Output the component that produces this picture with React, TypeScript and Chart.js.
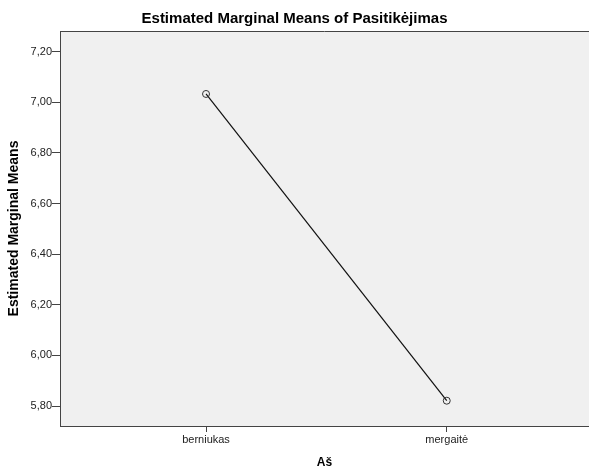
import React, { useEffect, useRef } from "react";
import { Chart, registerables } from "chart.js";

Chart.register(...registerables);

const categories: string[] = ["berniukas", "mergaitė"];
const means: number[] = [7.033, 5.821];
const yTickValues: number[] = [5.8, 6.0, 6.2, 6.4, 6.6, 6.8, 7.0, 7.2];
const chartTitle = "Estimated Marginal Means of Pasitikėjimas";
const yTitle = "Estimated Marginal Means";
const xTitle = "Aš";

const FONT = "'Liberation Sans', Arial, sans-serif";

const bgPlugin = {
  id: "spssBg",
  beforeDraw(chart: any) {
    const { ctx, chartArea } = chart;
    ctx.save();
    ctx.fillStyle = "#f0f0f0";
    ctx.fillRect(chartArea.left, chartArea.top, chartArea.right - chartArea.left, chartArea.bottom - chartArea.top);
    ctx.strokeStyle = "#444444";
    ctx.lineWidth = 1;
    ctx.beginPath();
    ctx.moveTo(chartArea.left, chartArea.top + 0.5);
    ctx.lineTo(chartArea.right, chartArea.top + 0.5);
    ctx.stroke();
    ctx.restore();
  },
  afterDraw(chart: any) {
    const { ctx } = chart;
    ctx.save();
    ctx.fillStyle = "#000000";
    ctx.font = `bold 15px ${FONT}`;
    ctx.textAlign = "center";
    ctx.textBaseline = "alphabetic";
    ctx.fillText(chartTitle, chart.width / 2, 23.3);
    ctx.restore();
  },
};

export default function App() {
  const ref = useRef<HTMLCanvasElement | null>(null);

  useEffect(() => {
    document.body.style.margin = "0";
    const canvas = ref.current;
    if (!canvas) return;
    const chart = new Chart(canvas, {
      type: "line",
      data: {
        datasets: [
          {
            data: means.map((m, i) => ({ x: i, y: m })),
            borderColor: "#111111",
            borderWidth: 1.2,
            pointRadius: 3.5,
            pointBorderWidth: 1,
            pointBorderColor: "#333333",
            pointBackgroundColor: "rgba(0,0,0,0)",
            fill: false,
            tension: 0,
          },
        ],
      },
      options: {
        responsive: false,
        animation: false,
        events: [],
        layout: { autoPadding: false, padding: { top: 31, left: 0, right: 0, bottom: 0 } },
        plugins: {
          legend: { display: false },
          title: { display: false },
          tooltip: { enabled: false },
        },
        scales: {
          x: {
            type: "linear",
            min: -0.6066,
            max: 1.591,
            afterBuildTicks: (scale: any) => {
              scale.ticks = categories.map((_, i) => ({ value: i }));
            },
            afterFit: (scale: any) => {
              scale.height = 49;
              scale.paddingLeft = 0;
              scale.paddingRight = 0;
            },
            ticks: {
              autoSkip: false,
              maxRotation: 0,
              padding: 1,
              color: "#222222",
              font: { family: FONT, size: 11 },
              callback: (v: any) => categories[Number(v)] ?? "",
            },
            grid: {
              drawOnChartArea: false,
              drawTicks: true,
              tickLength: 6,
              tickColor: "#444444",
            },
            border: { display: true, color: "#444444", width: 1 },
            title: {
              display: true,
              text: xTitle,
              color: "#000000",
              font: { family: FONT, size: 12, weight: "bold" },
              padding: { top: 0, bottom: 5.1 },
            },
          },
          y: {
            type: "linear",
            min: 5.721,
            max: 7.2818,
            afterBuildTicks: (scale: any) => {
              scale.ticks = yTickValues.map((v) => ({ value: v }));
            },
            afterFit: (scale: any) => {
              scale.width = 60;
              scale.paddingTop = 0;
              scale.paddingBottom = 0;
            },
            ticks: {
              autoSkip: false,
              padding: 0,
              color: "#222222",
              font: { family: FONT, size: 11 },
              callback: (v: any) => Number(v).toFixed(2).replace(".", ","),
            },
            grid: {
              drawOnChartArea: false,
              drawTicks: true,
              tickLength: 8,
              tickColor: "#444444",
            },
            border: { display: true, color: "#444444", width: 1 },
            title: {
              display: true,
              text: yTitle,
              color: "#000000",
              font: { family: FONT, size: 14, weight: "bold" },
              padding: { top: 5.9, bottom: 0 },
            },
          },
        },
      },
      plugins: [bgPlugin],
    });
    return () => chart.destroy();
  }, []);

  return (
    <div style={{ width: 589, height: 475 }}>
      <canvas ref={ref} width={589} height={475} style={{ display: "block" }} />
    </div>
  );
}
